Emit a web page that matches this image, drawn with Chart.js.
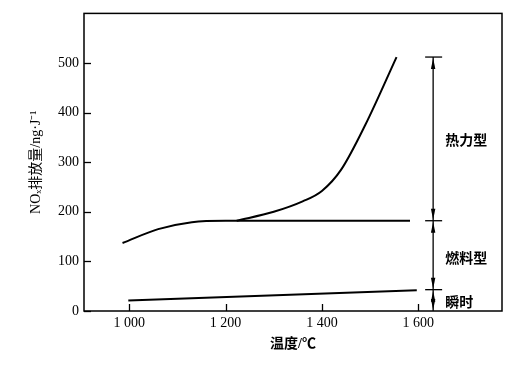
<!DOCTYPE html>
<html><head><meta charset="utf-8">
<script src="https://cdn.jsdelivr.net/npm/chart.js@4.4.0/dist/chart.umd.min.js"></script>
<style>html,body{margin:0;padding:0;background:#fff}#wrap{width:521px;height:365px}</style>
</head><body><div id="wrap"><canvas id="c" width="521" height="365"></canvas></div>
<script>
const xTickValues = [1000, 1200, 1400, 1600];
const xTickLabels = ['1 000', '1 200', '1 400', '1 600'];
const yTickValues = [0, 100, 200, 300, 400, 500];
const fuelT = [986, 1060, 1130, 1200, 1583];
const fuelNOx = [137, 165, 179, 182, 182];
const thermalT = [1223, 1300, 1360, 1400, 1440, 1490, 1555];
const thermalNOx = [182, 200, 221, 242, 285, 375, 512];
const promptT = [998, 1597];
const promptNOx = [21, 42];
const bracketT = 1631;
const bracketLevels = [0, 43, 182, 512];
const bracketLabels = ['瞬时', '燃料型', '热力型'];
const labelLevels = [19, 107, 346];

const SERIF = "'Liberation Serif','Times New Roman','Noto Sans CJK SC',serif";
const toPts = (xs, ys) => xs.map((x, i) => ({x: x, y: ys[i]}));

const decor = {
  id: 'decor',
  afterDraw(chart) {
    const ctx = chart.ctx, a = chart.chartArea;
    const xs = chart.scales.x, ys = chart.scales.y;
    ctx.save();
    ctx.strokeStyle = '#000';
    ctx.lineWidth = 1.5;
    ctx.strokeRect(a.left, a.top, a.right - a.left, a.bottom - a.top);
    ctx.lineWidth = 1.3;
    xTickValues.forEach(v => {
      const px = Math.round(xs.getPixelForValue(v)) + 0.5;
      ctx.beginPath(); ctx.moveTo(px, a.bottom); ctx.lineTo(px, a.bottom - 7); ctx.stroke();
    });
    yTickValues.forEach(v => {
      const py = Math.round(ys.getPixelForValue(v)) + 0.5;
      ctx.beginPath(); ctx.moveTo(a.left, py); ctx.lineTo(a.left + 7, py); ctx.stroke();
    });
    const bx = xs.getPixelForValue(bracketT);
    ctx.lineWidth = 1.3;
    ctx.beginPath();
    ctx.moveTo(bx, ys.getPixelForValue(bracketLevels[0]));
    ctx.lineTo(bx, ys.getPixelForValue(bracketLevels[bracketLevels.length - 1]));
    ctx.stroke();
    for (let i = 1; i < bracketLevels.length; i++) {
      const py = ys.getPixelForValue(bracketLevels[i]);
      ctx.beginPath(); ctx.moveTo(bx - 8, py); ctx.lineTo(bx + 9, py); ctx.stroke();
    }
    ctx.fillStyle = '#000';
    const head = (y, dir) => {
      ctx.beginPath();
      ctx.moveTo(bx, y);
      ctx.lineTo(bx - 2.2, y + dir * 11);
      ctx.lineTo(bx + 2.2, y + dir * 11);
      ctx.closePath(); ctx.fill();
    };
    for (let i = 0; i < bracketLevels.length - 1; i++) {
      const yLow = ys.getPixelForValue(bracketLevels[i]);
      const yHigh = ys.getPixelForValue(bracketLevels[i + 1]);
      head(yHigh + 1, 1);
      head(yLow - 1, -1);
    }
    ctx.font = "bold 14px 'Noto Sans CJK SC','Noto Sans CJK JP',sans-serif";
    ctx.textAlign = 'left';
    ctx.textBaseline = 'middle';
    bracketLabels.forEach((t, i) => {
      ctx.fillText(t, bx + 12, ys.getPixelForValue(labelLevels[i]));
    });
    ctx.restore();
  }
};

new Chart(document.getElementById('c'), {
  type: 'line',
  data: {
    datasets: [
      {label: '燃料型', data: toPts(fuelT, fuelNOx), borderColor: '#000', borderWidth: 2, pointRadius: 0, cubicInterpolationMode: 'monotone', fill: false},
      {label: '热力型', data: toPts(thermalT, thermalNOx), borderColor: '#000', borderWidth: 2, pointRadius: 0, cubicInterpolationMode: 'monotone', fill: false},
      {label: '瞬时', data: toPts(promptT, promptNOx), borderColor: '#000', borderWidth: 2, pointRadius: 0, tension: 0, fill: false}
    ]
  },
  options: {
    responsive: false,
    animation: false,
    devicePixelRatio: 1,
    layout: {padding: {left: 0, right: 19, top: 11, bottom: 0}},
    plugins: {legend: {display: false}, tooltip: {enabled: false}},
    scales: {
      x: {
        type: 'linear', min: 906, max: 1774,
        afterBuildTicks: s => { s.ticks = xTickValues.map(v => ({value: v})); },
        afterFit: s => { s.height = 54; },
        grid: {display: false, drawTicks: false},
        border: {display: false},
        ticks: {
          color: '#000', padding: 4, maxRotation: 0, autoSkip: false,
          font: {family: SERIF, size: 14},
          callback: (v, i) => xTickLabels[i]
        },
        title: {display: true, text: '温度/℃', color: '#000', font: {family: SERIF, size: 14, weight: 'bold'}, padding: {top: 0, bottom: 12}}
      },
      y: {
        type: 'linear', min: 0, max: 600,
        afterBuildTicks: s => { s.ticks = yTickValues.map(v => ({value: v})); },
        afterFit: s => { s.width = 84; },
        grid: {display: false, drawTicks: false},
        border: {display: false},
        ticks: {color: '#000', padding: 5, font: {family: SERIF, size: 14}},
        title: {display: true, text: 'NOₓ排放量/ng·J⁻¹', color: '#000', font: {family: SERIF, size: 14}, padding: {top: 28, bottom: 0}}
      }
    }
  },
  plugins: [decor]
});
</script>
</body></html>
